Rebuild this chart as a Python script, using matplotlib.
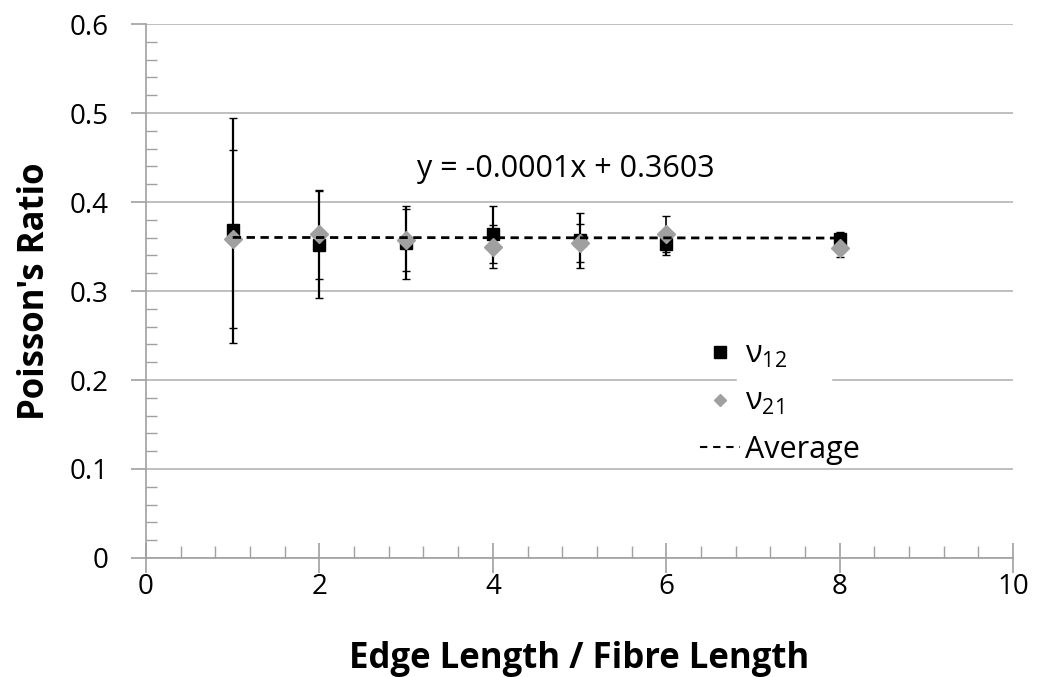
import matplotlib
matplotlib.use('Agg')
import matplotlib.pyplot as plt
from matplotlib.lines import Line2D
from matplotlib.patches import Rectangle
from matplotlib.ticker import MultipleLocator

plt.rcParams['font.family'] = ['Open Sans', 'DejaVu Sans']
plt.rcParams['mathtext.fontset'] = 'custom'
plt.rcParams['mathtext.rm'] = 'Open Sans'

# edge length / fibre length
x = [1, 2, 3, 4, 5, 6, 8]

# nu12 and nu21 with their error bars
nu12 = [0.368, 0.352, 0.354, 0.364, 0.357, 0.353, 0.359]
nu12_err = [0.126, 0.060, 0.041, 0.032, 0.031, 0.013, 0.007]
nu21 = [0.358, 0.364, 0.357, 0.350, 0.354, 0.364, 0.348]
nu21_err = [0.100, 0.050, 0.035, 0.024, 0.021, 0.020, 0.010]

# linear trend of the average
slope = -0.0001
intercept = 0.3603

xticks = [0, 2, 4, 6, 8, 10]
yticks = [0, 0.1, 0.2, 0.3, 0.4, 0.5, 0.6]
ytick_labels = ['0', '0.1', '0.2', '0.3', '0.4', '0.5', '0.6']

fig = plt.figure(figsize=(10.37, 6.77), dpi=100)
ax = fig.add_axes([0.1408, 0.1758, 0.8361, 0.7887])

ax.errorbar(x, nu12, yerr=nu12_err, fmt='s', color='black', ms=9,
            ecolor='black', elinewidth=1.6, capsize=3, capthick=1.0, zorder=3)
ax.errorbar(x, nu21, yerr=nu21_err, fmt='D', color='#a0a0a0', ms=9,
            ecolor='black', elinewidth=1.2, capsize=3, capthick=1.0, zorder=4)

xs = [x[0], x[-1]]
ax.plot(xs, [slope * v + intercept for v in xs], color='black', lw=2,
        ls=(0, (3, 2)), zorder=5)

ax.text(3.12, 0.437, 'y = %.4fx + %.4f' % (slope, intercept), fontsize=22,
        ha='left', va='center')

ax.set_xlim(0, 10)
ax.set_ylim(0, 0.6)
ax.set_xticks(xticks)
ax.set_xticklabels([str(t) for t in xticks])
ax.set_yticks(yticks)
ax.set_yticklabels(ytick_labels)
ax.xaxis.set_minor_locator(MultipleLocator(0.4))
ax.yaxis.set_minor_locator(MultipleLocator(0.02))

ax.grid(axis='y', which='major', color='#b4b4b4', lw=1.2)
ax.set_axisbelow(True)
for s in ['top', 'right']:
    ax.spines[s].set_visible(False)
for s in ['left', 'bottom']:
    ax.spines[s].set_color('#a0a0a0')
    ax.spines[s].set_linewidth(1.2)

ax.tick_params(axis='y', which='major', direction='out', length=11,
               color='#a0a0a0', width=1.2, labelsize=20, pad=16)
ax.tick_params(axis='y', which='minor', direction='in', length=8,
               color='#a0a0a0', width=1.0)
ax.tick_params(axis='x', which='major', direction='inout', length=21,
               color='#a0a0a0', width=1.2, labelsize=20, pad=0)
ax.tick_params(axis='x', which='minor', direction='in', length=9,
               color='#a0a0a0', width=1.0)

ax.set_xlabel('Edge Length / Fibre Length', fontsize=25, fontweight='bold',
              labelpad=29)
ax.set_ylabel("Poisson's Ratio", fontsize=25, fontweight='bold', labelpad=12)

# white patch behind the legend labels
ax.add_patch(Rectangle((6.82, 0.17), 1.08, 0.05, color='white', zorder=1))

handles = [
    Line2D([], [], ls='none', marker='s', color='black', ms=8),
    Line2D([], [], ls='none', marker='D', color='#a0a0a0', ms=6),
    Line2D([], [], color='black', lw=1.5, ls=(0, (3.5, 2.8))),
]
labels = [r'ν$_\mathregular{12}$', r'ν$_\mathregular{21}$', 'Average']
ax.legend(handles, labels, loc='upper left', bbox_to_anchor=(0.639, 0.408),
          frameon=False, fontsize=22, handlelength=1.31, handletextpad=0.16,
          labelspacing=0.56, borderpad=0, borderaxespad=0)

fig.savefig('out.png', dpi=100)
